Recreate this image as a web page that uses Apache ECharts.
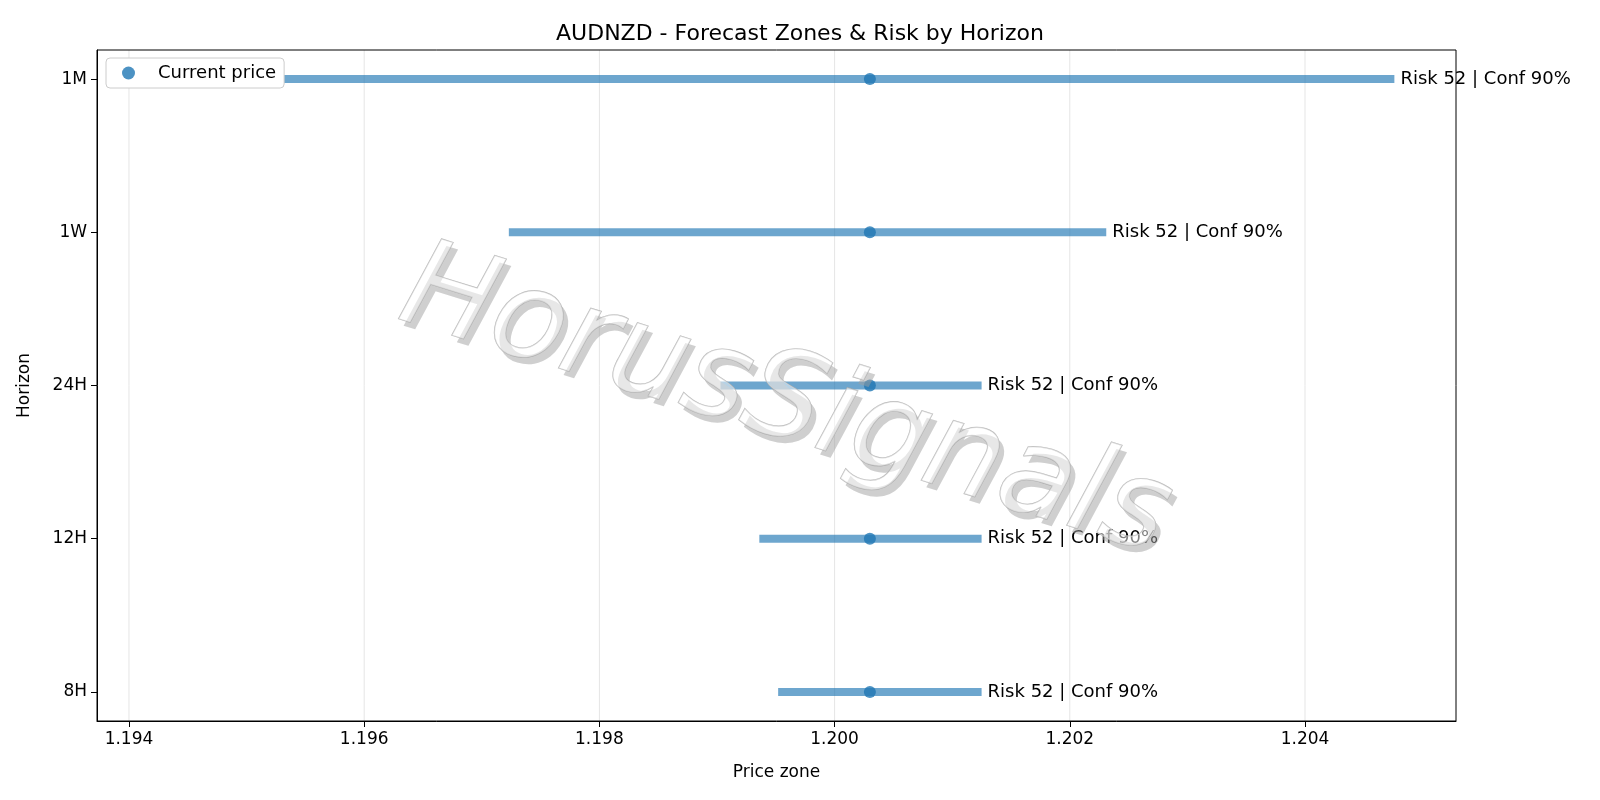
<!DOCTYPE html>
<html>
<head>
<meta charset="UTF-8">
<script src="https://cdn.jsdelivr.net/npm/echarts@6/dist/echarts.min.js"></script>
<style>
  body { margin: 0; background: #fff; }
  #chart { width: 1600px; height: 800px; }
</style>
</head>
<body>
<div id="chart"></div>
<script type="text/javascript">
    // horizons, bottom to top
    const horizons = ['8H', '12H', '24H', '1W', '1M'];
    const zoneLow = [1.19952, 1.19936, 1.19903, 1.19723, 1.19425];
    const zoneHigh = [1.20125, 1.20125, 1.20125, 1.20231, 1.20476];
    const currentPrice = [1.2003, 1.2003, 1.2003, 1.2003, 1.2003];
    const riskLabels = ['Risk 52 | Conf 90%', 'Risk 52 | Conf 90%', 'Risk 52 | Conf 90%', 'Risk 52 | Conf 90%', 'Risk 52 | Conf 90%'];
    const xTicks = [1.194, 1.196, 1.198, 1.200, 1.202, 1.204];

    const font = 'DejaVu Sans';
    const chart = echarts.init(document.getElementById('chart'));

    const zoneData = horizons.map(function (h, i) {
        return [zoneLow[i], zoneHigh[i], i, riskLabels[i]];
    });
    const priceData = horizons.map(function (h, i) {
        return [currentPrice[i], i];
    });

    const wm = {
        text: 'HorusSignals',
        font: 'italic 122px "DejaVu Sans"',
        align: 'center', verticalAlign: 'middle'
    };

    chart.setOption({
        animation: false,
        textStyle: { fontFamily: font },
        title: {
            text: 'AUDNZD - Forecast Zones & Risk by Horizon',
            left: 'center',
            top: 18,
            textStyle: { fontFamily: font, fontWeight: 'normal', fontSize: 22, color: '#000' }
        },
        legend: {
            left: 106, top: 58,
            padding: [6, 8, 6, 16],
            backgroundColor: '#fff',
            borderColor: '#ccc', borderWidth: 1, borderRadius: 4,
            itemWidth: 13, itemHeight: 13,
            textStyle: { fontFamily: font, fontSize: 18, color: '#000', padding: [0, 0, 0, 18] },
            data: [{ name: 'Current price', icon: 'circle' }]
        },
        grid: { left: 97, right: 144, top: 50, bottom: 79 },
        xAxis: {
            type: 'value',
            min: 1.193728, max: 1.205284,
            name: 'Price zone', nameLocation: 'middle', nameGap: 43,
            nameTextStyle: { fontFamily: font, fontSize: 17, color: '#000' },
            axisLine: { onZero: false, lineStyle: { color: '#000' } },
            axisTick: { customValues: xTicks, length: 6, lineStyle: { color: '#000' } },
            axisLabel: {
                customValues: xTicks, color: '#000', fontSize: 17, margin: 10,
                formatter: function (v) { return v.toFixed(3); }
            },
            splitLine: { show: false }
        },
        yAxis: {
            type: 'value',
            min: -0.19, max: 4.19,
            name: 'Horizon', nameLocation: 'middle', nameGap: 64,
            nameTextStyle: { fontFamily: font, fontSize: 17, color: '#000' },
            axisLine: { show: true, onZero: false, lineStyle: { color: '#000' } },
            axisTick: { show: true, customValues: [0, 1, 2, 3, 4], length: 6, lineStyle: { color: '#000' } },
            axisLabel: {
                customValues: [0, 1, 2, 3, 4], color: '#000', fontSize: 17, margin: 10,
                formatter: function (v) { return horizons[Math.round(v)]; }
            },
            splitLine: { show: false }
        },
        series: [
            {
                // vertical grid lines + frame
                type: 'custom',
                silent: true,
                z: 0,
                data: [0],
                renderItem: function (params, api) {
                    const children = xTicks.map(function (t) {
                        const a = api.coord([t, -0.19]);
                        const b = api.coord([t, 4.19]);
                        return { type: 'line', shape: { x1: a[0], y1: a[1], x2: b[0], y2: b[1] },
                                 style: { stroke: '#e5e5e5', lineWidth: 1 } };
                    });
                    const p0 = api.coord([1.193728, 4.19]);
                    const p1 = api.coord([1.205284, -0.19]);
                    children.push({ type: 'rect', shape: { x: p0[0], y: p0[1], width: p1[0] - p0[0], height: p1[1] - p0[1] },
                                    style: { fill: 'none', stroke: '#000', lineWidth: 1 } });
                    return { type: 'group', children: children };
                }
            },
            {
                type: 'custom',
                name: 'zones',
                clip: false,
                z: 2,
                data: zoneData,
                renderItem: function (params, api) {
                    const a = api.coord([api.value(0), api.value(2)]);
                    const b = api.coord([api.value(1), api.value(2)]);
                    return {
                        type: 'group',
                        children: [
                            { type: 'line', shape: { x1: a[0], y1: a[1], x2: b[0], y2: b[1] },
                              style: { stroke: 'rgba(31,119,180,0.65)', lineWidth: 8 } },
                            { type: 'text', x: b[0] + 6, y: b[1],
                              style: { text: zoneData[params.dataIndex][3], fill: '#000', font: '18px "DejaVu Sans"',
                                       align: 'left', verticalAlign: 'middle' } }
                        ]
                    };
                }
            },
            {
                type: 'scatter',
                name: 'Current price',
                symbol: 'circle',
                symbolSize: 12,
                z: 3,
                itemStyle: { color: '#1f77b4' },
                data: priceData
            }
        ],
        graphic: [
            {
                // watermark shadow
                type: 'text', z: 100, x: 790, y: 412, rotation: -0.3,
                style: Object.assign({ fill: 'rgba(160,160,160,0.5)' }, wm)
            },
            {
                type: 'text', z: 101, x: 785, y: 405, rotation: -0.3,
                style: Object.assign({ fill: 'rgba(255,255,255,0.5)', stroke: 'rgba(170,170,170,0.8)', lineWidth: 1.2 }, wm)
            }
        ]
    });
</script>
</body>
</html>
